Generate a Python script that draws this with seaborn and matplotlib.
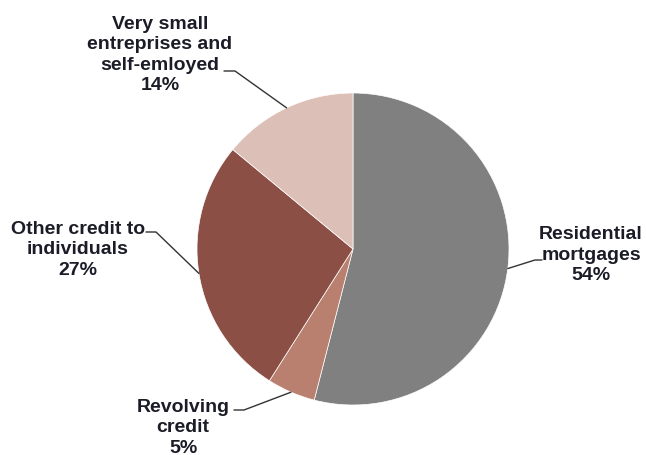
import numpy as np
import matplotlib.pyplot as plt
import seaborn as sns

# data
labels = ['Residential\nmortgages', 'Revolving\ncredit',
          'Other credit to\nindividuals', 'Very small\nentreprises and\nself-emloyed']
shares = [54, 5, 27, 14]
colors = ['#808080', '#b9806f', '#8b4f45', '#dcc0b8']

sns.set_theme(style='white')
plt.rcParams['font.family'] = ['Liberation Sans', 'DejaVu Sans']

fig = plt.figure(figsize=(6.46, 4.56), dpi=100)
ax = fig.add_axes([0, 0, 1, 1])

# pixel -> data helper (pie radius 1 = 156 px, centre at 353,250)
R, CX, CY = 156.0, 353.0, 250.0
def px(x, y):
    return (x - CX) / R, (CY - y) / R

wedges, _ = ax.pie(shares, colors=colors, startangle=90, counterclock=False,
                   radius=1, wedgeprops=dict(edgecolor='white', linewidth=0.5))

# label centre, text end of leader, elbow
layout = [
    ((591, 255), (542, 261), (535, 261)),
    ((183, 428), (234, 411), (244, 411)),
    ((78, 250), (146, 233), (156, 233)),
    ((160, 55), (224, 72), (235, 72)),
]

for w, lab, val, (tc, t0, t1) in zip(wedges, labels, shares, layout):
    mid = np.deg2rad((w.theta1 + w.theta2) / 2)
    p = (np.cos(mid), np.sin(mid))
    a, b = px(*t0), px(*t1)
    ax.plot([a[0], b[0], p[0]], [a[1], b[1], p[1]], color='#333333', lw=1)
    x, y = px(*tc)
    ax.text(x, y, f'{lab}\n{val}%', ha='center', va='center', fontsize=14,
            fontweight='bold', color='#1c1c28', linespacing=1.25)

ax.set_xlim(px(0, 0)[0], px(646, 0)[0])
ax.set_ylim(px(0, 456)[1], px(0, 0)[1])
ax.set_aspect('equal')
ax.axis('off')

fig.savefig('out.png', dpi=100)
